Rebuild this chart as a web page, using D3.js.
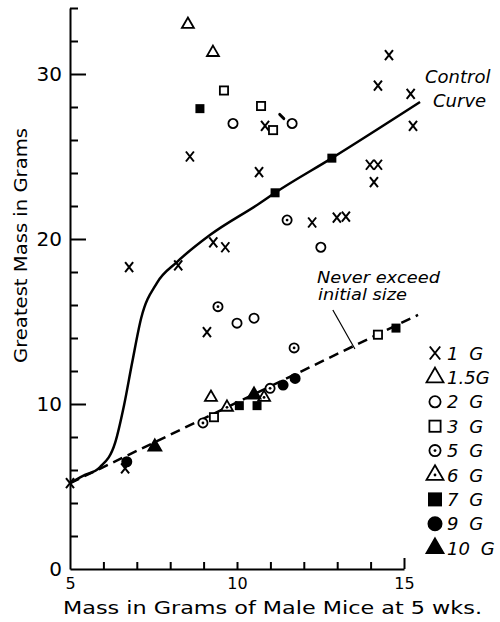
<!DOCTYPE html>
<html>
<head>
<meta charset="utf-8">
<script src="https://cdn.jsdelivr.net/npm/d3@7"></script>
<style>
	body { margin: 0; background: #fff; }
	text { font-family: 'DejaVu Sans', sans-serif; fill: #000; }
</style>
</head>
<body>
<script>
(function() {
	'use strict';

	// DATA //

	// [ mass at 5 wks, greatest mass ] in grams, one array per group:
	var g1 = [
		[5.0,5.2],[6.65,6.1],[6.77,18.3],[8.24,18.4],[8.59,25.0],[9.29,19.8],[9.65,19.5],
		[9.1,14.36],[10.66,24.06],[10.84,26.85],[12.25,21.0],[12.99,21.3],[13.26,21.35],
		[13.98,24.5],[14.22,24.5],[14.1,23.45],[14.22,29.3],[14.55,31.15],[15.2,28.8],[15.27,26.85]
	];
	var g15 = [ [8.53,33.0],[9.28,31.3],[9.22,10.4] ];
	var g2 = [ [9.88,27.0],[11.65,27.0],[12.51,19.5],[10.0,14.9],[10.51,15.2] ];
	var g3 = [ [9.61,29.0],[10.72,28.06],[11.08,26.6],[9.31,9.2],[14.22,14.2] ];
	var g5 = [ [11.5,21.15],[9.43,15.9],[8.98,8.85],[10.99,10.95],[11.71,13.4] ];
	var g6 = [ [9.7,9.8],[10.81,10.4] ];
	var g7 = [ [8.89,27.9],[11.14,22.8],[12.84,24.9],[10.07,9.9],[10.6,9.9],[14.76,14.6] ];
	var g9 = [ [6.7,6.5],[11.38,11.15],[11.74,11.55] ];
	var g10 = [ [7.54,7.4],[10.51,10.55] ];

	var controlCurve = [
		[5.0,5.2],[5.39,5.64],[5.9,6.18],[6.35,7.64],[6.62,9.94],[6.86,12.5],[7.13,15.2],
		[7.6,17.33],[8.2,18.6],[9.19,20.24],[10.69,22.18],[11.14,22.8],[12.84,24.9],[15.48,28.3]
	];
	var neverExceed = [ [5.0,5.2],[15.42,15.4] ];
	var leader = [ [12.87,15.7],[13.53,13.33] ];
	var stray = [ [11.28,27.55],[11.4,27.3] ];

	var groupLabels = [ '1 G', '1.5G', '2 G', '3 G', '5 G', '6 G', '7 G', '9 G', '10 G' ];
	var groupTypes = [ 'x', 'tri', 'circle', 'square', 'circleDot', 'triDot', 'squareFill', 'circleFill', 'triFill' ];
	var groupData = [ g1, g15, g2, g3, g5, g6, g7, g9, g10 ];

	var xTicks = [ 6, 7, 8, 9, 10, 11, 12, 13, 14, 15 ];
	var xTickLabels = [ 5, 10, 15 ];
	var yTicks = [ 2, 4, 6, 8, 10, 12, 14, 16, 18, 20, 22, 24, 26, 28, 30, 32, 34 ];
	var yTickLabels = [ 0, 10, 20, 30 ];


	// VARIABLES //

	var WIDTH = 500,
		HEIGHT = 622;

	var x = d3.scaleLinear().domain( [5, 15] ).range( [70, 404] ),
		y = d3.scaleLinear().domain( [0, 34] ).range( [569, 569 - 34 * 16.5] );

	var svg = d3.select( 'body' ).append( 'svg' )
		.attr( 'width', WIDTH )
		.attr( 'height', HEIGHT );


	// MARKERS //

	function drawMarker( g, type, s ) {
		var h = s / 2,
			tri = 'M0,' + (-s / Math.sqrt( 3 )) + 'L' + h + ',' + (s / (2 * Math.sqrt( 3 ))) + 'L' + (-h) + ',' + (s / (2 * Math.sqrt( 3 ))) + 'Z';
		if ( type === 'x' ) {
			g.append( 'path' )
				.attr( 'd', 'M' + (-h * 0.8) + ',' + (-h) + 'L' + (h * 0.8) + ',' + h + 'M' + (-h * 0.8) + ',' + h + 'L' + (h * 0.8) + ',' + (-h) )
				.attr( 'fill', 'none' ).attr( 'stroke', '#000' ).attr( 'stroke-width', 2 );
		} else if ( type === 'tri' || type === 'triDot' || type === 'triFill' ) {
			g.append( 'path' ).attr( 'd', tri )
				.attr( 'fill', type === 'triFill' ? '#000' : '#fff' )
				.attr( 'stroke', '#000' ).attr( 'stroke-width', 1.8 );
		} else if ( type === 'circle' || type === 'circleDot' || type === 'circleFill' ) {
			g.append( 'circle' ).attr( 'r', h - 0.9 )
				.attr( 'fill', type === 'circleFill' ? '#000' : '#fff' )
				.attr( 'stroke', '#000' ).attr( 'stroke-width', 1.8 );
		} else {
			g.append( 'rect' )
				.attr( 'x', -h + 0.9 ).attr( 'y', -h + 0.9 )
				.attr( 'width', s - 1.8 ).attr( 'height', s - 1.8 )
				.attr( 'fill', type === 'squareFill' ? '#000' : '#fff' )
				.attr( 'stroke', '#000' ).attr( 'stroke-width', 1.8 );
		}
		if ( type === 'circleDot' || type === 'triDot' ) {
			g.append( 'circle' ).attr( 'r', 1.4 ).attr( 'fill', '#000' );
		}
	}

	var plotSize = { x: 10, tri: 12, circle: 11, square: 10, circleDot: 11, triDot: 12, squareFill: 9, circleFill: 11, triFill: 13 },
		legendSize = { x: 13, tri: 17, circle: 13, square: 13, circleDot: 13, triDot: 17, squareFill: 14, circleFill: 15, triFill: 17 };


	// AXES //

	var yAxis = svg.append( 'g' )
		.attr( 'transform', 'translate(' + x( 5 ) + ',0)' )
		.call( d3.axisRight( y ).tickValues( yTicks ).tickSize( 8 ).tickSizeOuter( 0 ).tickFormat( '' ) );
	yAxis.selectAll( '.tick line' )
		.attr( 'x2', function( d ) { return d % 10 === 0 ? 16 : 8; } );

	var xAxis = svg.append( 'g' )
		.attr( 'transform', 'translate(0,' + y( 0 ) + ')' )
		.call( d3.axisTop( x ).tickValues( xTicks ).tickSize( 7 ).tickSizeOuter( 0 ).tickFormat( '' ) );
	xAxis.selectAll( '.tick line' )
		.attr( 'y2', function( d ) { return d === 15 ? -11 : -7; } );

	svg.selectAll( '.domain, .tick line' )
		.attr( 'stroke', '#000' ).attr( 'stroke-width', 2 );

	svg.append( 'g' )
		.attr( 'transform', 'translate(' + x( 5 ) + ',0)' )
		.call( d3.axisLeft( y ).tickValues( yTickLabels ).tickSize( 0 ).tickPadding( 8 ) )
		.call( function( g ) { g.select( '.domain' ).remove(); } )
		.selectAll( 'text' )
		.attr( 'font-family', 'DejaVu Sans, sans-serif' ).attr( 'font-size', 20 );

	svg.append( 'g' )
		.attr( 'transform', 'translate(0,' + y( 0 ) + ')' )
		.call( d3.axisBottom( x ).tickValues( xTickLabels ).tickSize( 0 ).tickPadding( 9 ) )
		.call( function( g ) { g.select( '.domain' ).remove(); } )
		.selectAll( 'text' )
		.attr( 'font-family', 'DejaVu Sans, sans-serif' ).attr( 'font-size', 16 );

	svg.append( 'text' )
		.attr( 'x', 63 ).attr( 'y', 614 )
		.attr( 'font-size', 18 )
		.attr( 'textLength', 419 ).attr( 'lengthAdjust', 'spacingAndGlyphs' )
		.text( 'Mass in Grams of Male Mice at 5 wks.' );

	svg.append( 'text' )
		.attr( 'transform', 'translate(27,363) rotate(-90)' )
		.attr( 'font-size', 18 )
		.attr( 'textLength', 235 ).attr( 'lengthAdjust', 'spacingAndGlyphs' )
		.text( 'Greatest Mass in Grams' );


	// LINES //

	var line = d3.line()
		.x( function( d ) { return x( d[ 0 ] ); } )
		.y( function( d ) { return y( d[ 1 ] ); } );

	svg.append( 'path' )
		.attr( 'd', line.curve( d3.curveMonotoneX )( controlCurve ) )
		.attr( 'fill', 'none' ).attr( 'stroke', '#000' ).attr( 'stroke-width', 2.5 );

	line.curve( d3.curveLinear );

	svg.append( 'path' )
		.attr( 'd', line( neverExceed ) )
		.attr( 'fill', 'none' ).attr( 'stroke', '#000' ).attr( 'stroke-width', 2.5 )
		.attr( 'stroke-dasharray', '10,6' );

	svg.append( 'path' )
		.attr( 'd', line( leader ) )
		.attr( 'fill', 'none' ).attr( 'stroke', '#000' ).attr( 'stroke-width', 1.2 );

	svg.append( 'path' )
		.attr( 'd', line( stray ) )
		.attr( 'fill', 'none' ).attr( 'stroke', '#000' ).attr( 'stroke-width', 3 ).attr( 'stroke-linecap', 'round' );


	// POINTS //

	groupData.forEach( function( data, i ) {
		svg.append( 'g' ).selectAll( 'g' )
			.data( data )
		  .enter().append( 'g' )
			.attr( 'transform', function( d ) { return 'translate(' + x( d[ 0 ] ) + ',' + y( d[ 1 ] ) + ')'; } )
			.each( function() { drawMarker( d3.select( this ), groupTypes[ i ], plotSize[ groupTypes[ i ] ] ); } );
	});


	// ANNOTATIONS //

	var note = svg.append( 'g' )
		.attr( 'font-style', 'italic' ).attr( 'font-size', 18 );
	note.append( 'text' ).attr( 'x', 425 ).attr( 'y', 83 ).text( 'Control' );
	note.append( 'text' ).attr( 'x', 433 ).attr( 'y', 107 ).text( 'Curve' );

	var note2 = svg.append( 'g' )
		.attr( 'font-style', 'italic' ).attr( 'font-size', 15 );
	note2.append( 'text' ).attr( 'x', 317 ).attr( 'y', 283 )
		.attr( 'textLength', 123 ).attr( 'lengthAdjust', 'spacingAndGlyphs' )
		.text( 'Never exceed' );
	note2.append( 'text' ).attr( 'x', 318 ).attr( 'y', 300 )
		.attr( 'textLength', 89 ).attr( 'lengthAdjust', 'spacingAndGlyphs' )
		.text( 'initial size' );


	// LEGEND //

	var legend = svg.append( 'g' )
		.selectAll( 'g' )
		.data( groupLabels )
	  .enter().append( 'g' )
		.attr( 'transform', function( d, i ) { return 'translate(435,' + (353 + i * 24.4) + ')'; } );

	legend.each( function( d, i ) {
		drawMarker( d3.select( this ), groupTypes[ i ], legendSize[ groupTypes[ i ] ] );
	});

	legend.append( 'text' )
		.attr( 'x', 12 ).attr( 'y', 6.5 )
		.attr( 'font-style', 'italic' ).attr( 'font-size', 18 )
		.attr( 'word-spacing', 5 )
		.text( function( d ) { return d; } );

})();
</script>
</body>
</html>
